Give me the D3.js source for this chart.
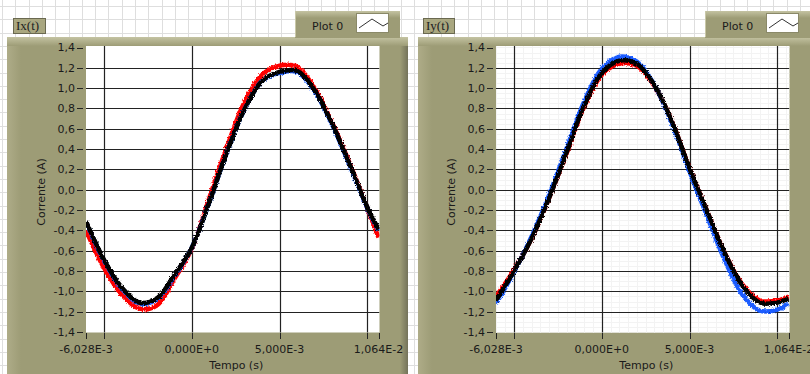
<!DOCTYPE html>
<html>
<head>
<meta charset="utf-8">
<script src="https://cdn.jsdelivr.net/npm/d3@7"></script>
<style>
  html, body { margin: 0; padding: 0; background: #fff; }
  svg { display: block; }
  .tick-label { font-family: "DejaVu Sans", sans-serif; font-size: 11px; fill: #1a1a1a; }
  .axis-title { font-family: "DejaVu Sans", sans-serif; font-size: 11px; fill: #1a1a1a; }
  .panel-label { font-family: "Liberation Serif", serif; font-size: 13px; fill: #222; }
</style>
</head>
<body>
<div id="chart"></div>
<script>
const tempo = [-6.028, -5, -4, -3, -2, -1, 0, 1, 2, 3, 4, 5, 6, 7, 8, 9, 10, 10.64];

const ixVermelho = [-0.40, -0.77, -1.03, -1.17, -1.14, -0.88, -0.58, -0.08, 0.42, 0.86, 1.13, 1.22, 1.21, 1.00, 0.66, 0.26, -0.18, -0.47];
const ixAzul     = [-0.32, -0.70, -0.97, -1.12, -1.08, -0.85, -0.57, -0.12, 0.37, 0.79, 1.07, 1.15, 1.16, 0.97, 0.64, 0.24, -0.18, -0.40];
const ixPreto    = [-0.31, -0.69, -0.96, -1.11, -1.07, -0.84, -0.57, -0.12, 0.37, 0.79, 1.07, 1.16, 1.17, 0.98, 0.65, 0.25, -0.17, -0.39];

const iyVermelho = [-1.05, -0.79, -0.48, -0.08, 0.36, 0.82, 1.13, 1.24, 1.22, 1.02, 0.67, 0.21, -0.21, -0.62, -0.93, -1.09, -1.09, -1.05];
const iyAzul     = [-1.12, -0.81, -0.46, -0.05, 0.41, 0.87, 1.19, 1.31, 1.26, 1.03, 0.65, 0.18, -0.26, -0.69, -1.03, -1.19, -1.18, -1.12];
const iyPreto    = [-1.09, -0.80, -0.48, -0.08, 0.37, 0.83, 1.15, 1.27, 1.24, 1.03, 0.67, 0.21, -0.21, -0.62, -0.94, -1.11, -1.11, -1.07];

//Axis ticks and labels
const yTicks = [-1.4, -1.2, -1.0, -0.8, -0.6, -0.4, -0.2, 0.0, 0.2, 0.4, 0.6, 0.8, 1.0, 1.2, 1.4];
const xGrid = [-5, 0, 5, 10];
const xTickMarks = [-6.028, -5, 0, 5, 10, 10.64];
const xTickValues = [-6.028, 0, 5, 10.64];
const xTickLabels = ["-6,028E-3", "0,000E+0", "5,000E-3", "1,064E-2"];

const width = 810, height = 374;
const olive = "#9d9c76";

const svg = d3.select("#chart").append("svg")
    .attr("width", width)
    .attr("height", height);

const defs = svg.append("defs");

//Lighter band at the top of the frames
let topGrad = defs.append("linearGradient").attr("id", "topGrad")
    .attr("x1", 0).attr("y1", 0).attr("x2", 0).attr("y2", 1);
topGrad.append("stop").attr("offset", 0).attr("stop-color", "#c4c3a2");
topGrad.append("stop").attr("offset", 1).attr("stop-color", olive);

let leftGrad = defs.append("linearGradient").attr("id", "leftGrad")
    .attr("x1", 0).attr("y1", 0).attr("x2", 1).attr("y2", 0);
leftGrad.append("stop").attr("offset", 0).attr("stop-color", "#aeac88");
leftGrad.append("stop").attr("offset", 1).attr("stop-color", olive);

let rightGrad = defs.append("linearGradient").attr("id", "rightGrad")
    .attr("x1", 0).attr("y1", 0).attr("x2", 1).attr("y2", 0);
rightGrad.append("stop").attr("offset", 0).attr("stop-color", olive);
rightGrad.append("stop").attr("offset", 1).attr("stop-color", "#74735a");

//Rough edge for the noisy signals
let noise = defs.append("filter").attr("id", "noise")
    .attr("filterUnits", "userSpaceOnUse")
    .attr("x", 0).attr("y", 0).attr("width", width).attr("height", height);
noise.append("feTurbulence")
    .attr("type", "fractalNoise")
    .attr("baseFrequency", "0.9 0.6")
    .attr("numOctaves", 2)
    .attr("seed", 3)
    .attr("result", "turb");
noise.append("feDisplacementMap")
    .attr("in", "SourceGraphic")
    .attr("in2", "turb")
    .attr("scale", 3.5)
    .attr("xChannelSelector", "R")
    .attr("yChannelSelector", "G");

//Front panel grid
svg.append("rect").attr("width", width).attr("height", height).attr("fill", "#fff");
let bgGrid = svg.append("g").attr("stroke", "#dedede").attr("stroke-width", 1);
d3.range(2, width, 13.3).forEach(x => {
    bgGrid.append("line").attr("x1", Math.round(x) + 0.5).attr("x2", Math.round(x) + 0.5)
        .attr("y1", 0).attr("y2", height);
});
d3.range(6, height, 13.3).forEach(y => {
    bgGrid.append("line").attr("y1", Math.round(y) + 0.5).attr("y2", Math.round(y) + 0.5)
        .attr("x1", 0).attr("x2", width);
});

const panels = [
    { frameX: 7, frameW: 401, plotX0: 86, plotX1: 378.5, label: "Ix(t)", labelX: 13, labelW: 32,
      legendX: 295, legendW: 105, minorGrid: false, clipId: "clipA",
      series: [ { v: ixVermelho, c: "#ff0000" }, { v: ixAzul, c: "#1a5cff" }, { v: ixPreto, c: "#000" } ] },
    { frameX: 418, frameW: 410, plotX0: 496, plotX1: 788.5, label: "Iy(t)", labelX: 423, labelW: 31,
      legendX: 705, legendW: 115, minorGrid: true, clipId: "clipB",
      series: [ { v: iyVermelho, c: "#ff0000" }, { v: iyAzul, c: "#1a5cff" }, { v: iyPreto, c: "#000" } ] }
];

const plotY0 = 47.5, plotY1 = 332;

panels.forEach(drawPanel);

//Function to draw one LabVIEW style graph
function drawPanel(p) {
    let g = svg.append("g");

    //Frame
    g.append("rect").attr("x", p.frameX).attr("y", 37).attr("width", p.frameW).attr("height", height - 37)
        .attr("fill", olive);
    g.append("rect").attr("x", p.frameX).attr("y", 37).attr("width", 14).attr("height", height - 37)
        .attr("fill", "url(#leftGrad)");
    if (p.frameX + p.frameW <= width) {
        g.append("rect").attr("x", p.frameX + p.frameW - 8).attr("y", 37).attr("width", 8).attr("height", height - 37)
            .attr("fill", "url(#rightGrad)");
    }
    g.append("rect").attr("x", p.frameX).attr("y", 37).attr("width", p.frameW).attr("height", 9)
        .attr("fill", "url(#topGrad)");

    //Legend box
    g.append("rect").attr("x", p.legendX).attr("y", 11).attr("width", p.legendW).attr("height", 27)
        .attr("fill", olive);
    g.append("rect").attr("x", p.legendX).attr("y", 11).attr("width", p.legendW).attr("height", 7)
        .attr("fill", "url(#topGrad)");
    g.append("line").attr("x1", p.legendX + 0.5).attr("x2", p.legendX + 0.5).attr("y1", 11).attr("y2", 37)
        .attr("stroke", "#c9c8a8");
    g.append("text").attr("class", "tick-label")
        .attr("x", p.legendX + 17).attr("y", 29.5)
        .text("Plot 0");
    let sx = p.legendX + 61;
    g.append("rect").attr("x", sx + 0.5).attr("y", 13.5).attr("width", 32).attr("height", 19)
        .attr("fill", "#fff").attr("stroke", "#8a8968");
    g.append("polyline")
        .attr("points", [[sx + 3, 28], [sx + 16, 19], [sx + 27, 26], [sx + 32, 23]].map(d => d.join(",")).join(" "))
        .attr("fill", "none").attr("stroke", "#333").attr("stroke-width", 1);

    //Panel label
    g.append("rect").attr("x", p.labelX + 0.5).attr("y", 18.5).attr("width", p.labelW).attr("height", 15)
        .attr("fill", "#a9a780").attr("stroke", "#6a6950");
    g.append("text").attr("class", "panel-label")
        .attr("x", p.labelX + 3).attr("y", 30)
        .text(p.label);

    //Scales
    let x = d3.scaleLinear().domain([-6.028, 10.64]).range([p.plotX0, p.plotX1]);
    let y = d3.scaleLinear().domain([-1.4, 1.4]).range([plotY1, plotY0]);

    //Plot area
    g.append("rect").attr("x", p.plotX0).attr("y", plotY0 - 1.5)
        .attr("width", p.plotX1 - p.plotX0 + 1).attr("height", plotY1 - plotY0 + 2)
        .attr("fill", "#fff");

    defs.append("clipPath").attr("id", p.clipId).append("rect")
        .attr("x", p.plotX0).attr("y", plotY0 - 1.5)
        .attr("width", p.plotX1 - p.plotX0 + 1).attr("height", plotY1 - plotY0 + 2);

    let plot = g.append("g").attr("clip-path", `url(#${p.clipId})`);

    //Minor grid, only on the Iy graph
    if (p.minorGrid) {
        let minor = plot.append("g").attr("stroke", "#f3f3f3").attr("stroke-width", 1);
        d3.range(-6, 10.7, 0.5).forEach(t => {
            minor.append("line").attr("x1", Math.round(x(t)) + 0.5).attr("x2", Math.round(x(t)) + 0.5)
                .attr("y1", plotY0 - 2).attr("y2", plotY1 + 1);
        });
        d3.range(-1.4, 1.41, 0.05).forEach(v => {
            minor.append("line").attr("y1", Math.round(y(v)) + 0.5).attr("y2", Math.round(y(v)) + 0.5)
                .attr("x1", p.plotX0).attr("x2", p.plotX1 + 1);
        });
    }

    //Major grid
    plot.selectAll(".hgrid").data(yTicks.slice(1, -1)).enter().append("line")
        .attr("x1", p.plotX0).attr("x2", p.plotX1 + 1)
        .attr("y1", d => Math.round(y(d)) + 0.5).attr("y2", d => Math.round(y(d)) + 0.5)
        .attr("stroke", "#222").attr("stroke-width", 1.2);
    plot.selectAll(".vgrid").data(xGrid).enter().append("line")
        .attr("x1", d => Math.round(x(d)) + 0.5).attr("x2", d => Math.round(x(d)) + 0.5)
        .attr("y1", plotY0 - 2).attr("y2", plotY1 + 1)
        .attr("stroke", "#222").attr("stroke-width", 1.2);

    //Signals
    let line = d3.line()
        .x((d, i) => x(tempo[i]))
        .y(d => y(d))
        .curve(d3.curveCatmullRom);

    let sig = plot.append("g").attr("filter", "url(#noise)");
    p.series.forEach(s => {
        sig.append("path")
            .attr("d", line(s.v))
            .attr("fill", "none")
            .attr("stroke", s.c)
            .attr("stroke-width", 4.5)
            .attr("stroke-linejoin", "round");
    });

    //Y axis ticks and labels
    g.selectAll(".ytick").data(yTicks).enter().append("line")
        .attr("x1", p.plotX0 - 9).attr("x2", p.plotX0 - 3)
        .attr("y1", d => Math.round(y(d)) + 0.5).attr("y2", d => Math.round(y(d)) + 0.5)
        .attr("stroke", "#222");
    g.selectAll(".ylab").data(yTicks).enter().append("text")
        .attr("class", "tick-label")
        .attr("x", p.plotX0 - 11)
        .attr("y", d => y(d))
        .attr("dy", "0.36em")
        .attr("text-anchor", "end")
        .text(d => d3.format(".1f")(d).replace("−", "-").replace(".", ","));

    //X axis ticks and labels
    g.selectAll(".xtick").data(xTickMarks).enter().append("line")
        .attr("x1", d => Math.round(x(d)) + 0.5).attr("x2", d => Math.round(x(d)) + 0.5)
        .attr("y1", plotY1 + 1).attr("y2", plotY1 + 7)
        .attr("stroke", "#222");
    g.selectAll(".xlab").data(xTickValues).enter().append("text")
        .attr("class", "tick-label")
        .attr("x", d => x(d))
        .attr("y", 353)
        .attr("text-anchor", "middle")
        .text((d, i) => xTickLabels[i]);

    //Axis titles
    g.append("text").attr("class", "axis-title")
        .attr("x", (p.plotX0 + p.plotX1) / 2 + 4).attr("y", 369)
        .attr("text-anchor", "middle")
        .text("Tempo (s)");
    g.append("text").attr("class", "axis-title")
        .attr("transform", `translate(${p.plotX0 - 41},192) rotate(-90)`)
        .attr("text-anchor", "middle")
        .text("Corrente (A)");
}
</script>
</body>
</html>
